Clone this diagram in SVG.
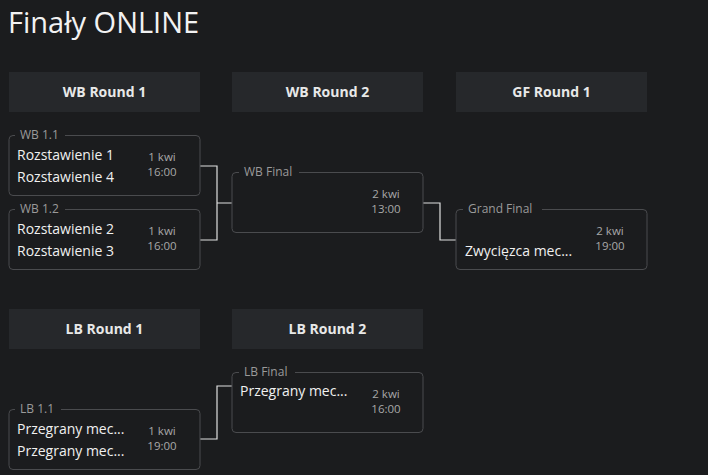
<svg xmlns="http://www.w3.org/2000/svg" width="708" height="475" viewBox="0 0 708 475">
<style>
text{font-family:"Open Sans","Noto Sans",sans-serif}
.hd rect{fill:#26282b}
.hd text{fill:#e8e8e8;font-size:14px;font-weight:bold;text-anchor:middle}
.m rect.b{fill:none;stroke:#4a4b4e;stroke-width:1}
.lb{fill:#9a9a9a;font-size:12px}
.m rect.lbg{fill:#1b1c1e;stroke:none}
.t{fill:#f0f0f0;font-size:14px}
.d{fill:#a8a8a8;font-size:11.5px;text-anchor:middle}
.c{fill:none;stroke:#e0e0e0;stroke-width:1.2}
</style>
<rect width="708" height="475" fill="#1b1c1e"/>
<text x="8" y="33" font-size="29" fill="#f2f2f2">Finały ONLINE</text>
<g class="hd" id="h1"><rect x="9" y="72" width="191" height="40"/><text x="104.5" y="97">WB Round 1</text></g>
<g class="hd" id="h2"><rect x="232" y="72" width="191" height="40"/><text x="327.5" y="97">WB Round 2</text></g>
<g class="hd" id="h3"><rect x="456" y="72" width="191" height="40"/><text x="551.5" y="97">GF Round 1</text></g>
<g class="hd" id="h4"><rect x="9" y="309" width="191" height="40"/><text x="104.5" y="334">LB Round 1</text></g>
<g class="hd" id="h5"><rect x="232" y="309" width="191" height="40"/><text x="327.5" y="334">LB Round 2</text></g>
<g id="connectors">
<path class="c" d="M200,166H217V240H200M217,203H232"/>
<path class="c" d="M423,203H440V240H456"/>
<path class="c" d="M200,439H217V386H232"/>
</g>
<g class="m" id="wb11"><rect class="b" x="9" y="135.5" width="191" height="60" rx="4"/><rect class="lbg" x="15" y="128" width="50" height="14"/><text class="lb" x="20" y="139">WB 1.1</text>
<text class="t" x="17" y="160">Rozstawienie 1</text><text class="t" x="17" y="182">Rozstawienie 4</text><text class="d" x="162" y="161">1 kwi</text><text class="d" x="162" y="176">16:00</text></g>
<g class="m" id="wb12"><rect class="b" x="9" y="209.5" width="191" height="60" rx="4"/><rect class="lbg" x="15" y="202" width="50" height="14"/><text class="lb" x="20" y="213">WB 1.2</text>
<text class="t" x="17" y="234">Rozstawienie 2</text><text class="t" x="17" y="256">Rozstawienie 3</text><text class="d" x="162" y="235">1 kwi</text><text class="d" x="162" y="250">16:00</text></g>
<g class="m" id="wbf"><rect class="b" x="232" y="172.5" width="191" height="60" rx="4"/><rect class="lbg" x="239" y="165" width="60" height="14"/><text class="lb" x="244" y="176">WB Final</text>
<text class="d" x="386" y="198">2 kwi</text><text class="d" x="386" y="213">13:00</text></g>
<g class="m" id="gf"><rect class="b" x="456" y="209.5" width="191" height="60" rx="4"/><rect class="lbg" x="463" y="202" width="79" height="14"/><text class="lb" x="468" y="213">Grand Final</text>
<text class="t" x="465" y="256">Zwycięzca mec...</text><text class="d" x="610" y="235">2 kwi</text><text class="d" x="610" y="250">19:00</text></g>
<g class="m" id="lbf"><rect class="b" x="232" y="372.5" width="191" height="60" rx="4"/><rect class="lbg" x="239" y="365" width="56" height="14"/><text class="lb" x="244" y="376">LB Final</text>
<text class="t" x="240" y="396">Przegrany mec...</text><text class="d" x="386" y="398">2 kwi</text><text class="d" x="386" y="413">16:00</text></g>
<g class="m" id="lb11"><rect class="b" x="9" y="409.5" width="191" height="60" rx="4"/><rect class="lbg" x="15" y="402" width="46" height="14"/><text class="lb" x="20" y="413">LB 1.1</text>
<text class="t" x="17" y="434">Przegrany mec...</text><text class="t" x="17" y="456">Przegrany mec...</text><text class="d" x="162" y="435">1 kwi</text><text class="d" x="162" y="450">19:00</text></g>
</svg>
